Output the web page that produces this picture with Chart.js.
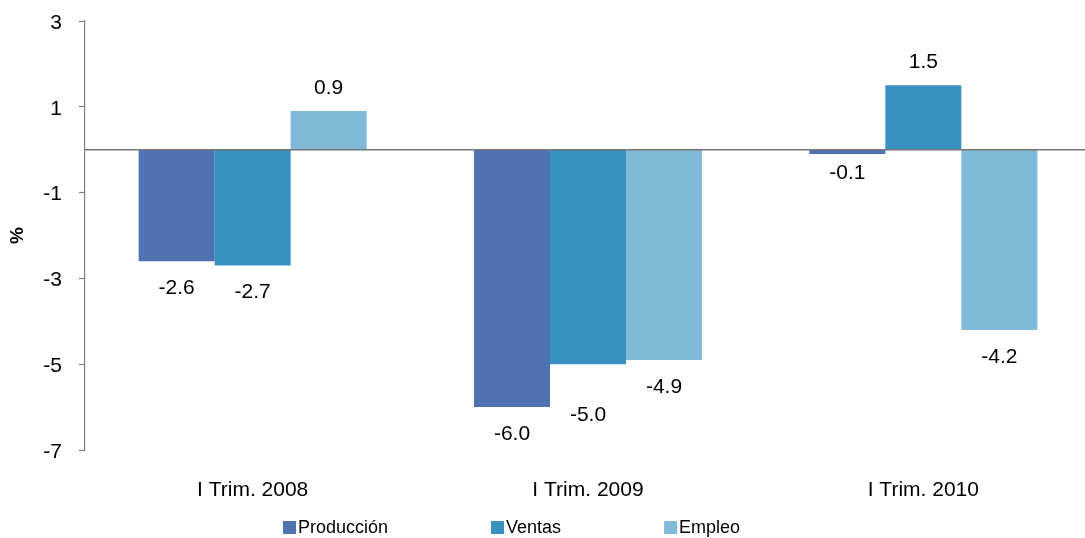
<!DOCTYPE html>
<html lang="es">
<head>
<meta charset="utf-8">
<title>Producción, ventas y empleo</title>
<script src="https://cdn.jsdelivr.net/npm/chart.js@4.4.1/dist/chart.umd.min.js"></script>
<style>
  html, body { margin: 0; padding: 0; background: #ffffff; overflow: hidden; }
  #wrap { width: 1085px; height: 538px; overflow: hidden; }
</style>
</head>
<body>
<div id="wrap"><canvas id="chart" width="1091" height="538"></canvas></div>
<script>
// Variación anual (%) por trimestre
const categories = ['I Trim. 2008', 'I Trim. 2009', 'I Trim. 2010'];
const produccion = [-2.6, -6.0, -0.1];
const ventas     = [-2.7, -5.0, 1.5];
const empleo     = [0.9, -4.9, -4.2];
const yTicks     = [-7, -5, -3, -1, 1, 3];
const seriesNames  = ['Producción', 'Ventas', 'Empleo'];
const seriesColors = ['#4F72B3', '#3891C1', '#81BAD9'];

const FONT = '"Liberation Sans", Arial, sans-serif';

// Value labels at the end of each bar, plus the zero line over the bars
const barLabels = {
  id: 'barLabels',
  afterDatasetsDraw(chart, args, opts) {
    const { ctx, chartArea } = chart;
    const y0 = chart.scales.y.getPixelForValue(0);
    ctx.save();
    ctx.strokeStyle = '#767676';
    ctx.lineWidth = 1.5;
    ctx.beginPath();
    ctx.moveTo(chartArea.left, y0);
    ctx.lineTo(chart.width, y0);
    ctx.stroke();

    ctx.font = '21px ' + FONT;
    ctx.fillStyle = '#000000';
    ctx.textAlign = 'center';
    ctx.textBaseline = 'middle';
    chart.data.datasets.forEach((ds, di) => {
      const meta = chart.getDatasetMeta(di);
      meta.data.forEach((bar, i) => {
        const v = ds.data[i];
        const extra = (opts.shift[di] && opts.shift[di][i]) || 0;
        const off = opts.offset + extra;
        const y = (v >= 0 ? bar.y - off : bar.y + off) + opts.nudge;
        ctx.fillText(v.toFixed(1), bar.x, y);
      });
    });
    ctx.restore();
  }
};

// Legend drawn as a single row under the axis labels
const rowLegend = {
  id: 'rowLegend',
  afterDraw(chart, args, opts) {
    const { ctx } = chart;
    ctx.save();
    ctx.font = '18px ' + FONT;
    ctx.textBaseline = 'middle';
    ctx.textAlign = 'left';
    let x = opts.startX;
    const y = opts.y;
    chart.data.datasets.forEach(ds => {
      ctx.fillStyle = ds.backgroundColor;
      ctx.fillRect(x, y - 6, 13, 13);
      ctx.fillStyle = '#000000';
      ctx.fillText(ds.label, x + 15, y + 1);
      x += 15 + ctx.measureText(ds.label).width + opts.gap;
    });
    ctx.restore();
  }
};

const values = [produccion, ventas, empleo];

new Chart(document.getElementById('chart'), {
  type: 'bar',
  data: {
    labels: categories,
    datasets: values.map((d, i) => ({
      label: seriesNames[i],
      data: d,
      backgroundColor: seriesColors[i],
      borderWidth: 0,
      categoryPercentage: 0.68,
      barPercentage: 1.0
    }))
  },
  options: {
    responsive: false,
    animation: false,
    layout: { padding: { top: 21, right: 0, bottom: 0, left: 0 } },
    plugins: {
      legend: { display: false },
      tooltip: { enabled: false },
      barLabels: { offset: 25, nudge: 2, shift: { 0: { 2: -8 }, 1: { 1: 24 } } },
      rowLegend: { startX: 283, y: 527, gap: 103 }
    },
    scales: {
      x: {
        grid: { display: false },
        border: { display: false },
        ticks: { color: '#000000', font: { family: FONT, size: 21 }, padding: 20, maxRotation: 0 },
        afterFit: s => { s.height = 88; }
      },
      y: {
        min: -7,
        max: 3,
        afterBuildTicks: s => { s.ticks = yTicks.map(v => ({ value: v })); },
        ticks: { color: '#000000', font: { family: FONT, size: 21 }, padding: 17, labelOffset: 2 },
        grid: { drawOnChartArea: false, drawTicks: true, tickLength: 6, tickColor: '#808080', tickWidth: 1.2 },
        border: { display: true, color: '#808080', width: 1.2 },
        title: { display: true, text: '%', color: '#000000', font: { family: FONT, size: 19, weight: 'bold' }, padding: { top: 6, bottom: 0 } },
        afterFit: s => { s.width = 85; s.paddingTop = 0; s.paddingBottom = 0; }
      }
    }
  },
  plugins: [barLabels, rowLegend]
});
</script>
</body>
</html>
